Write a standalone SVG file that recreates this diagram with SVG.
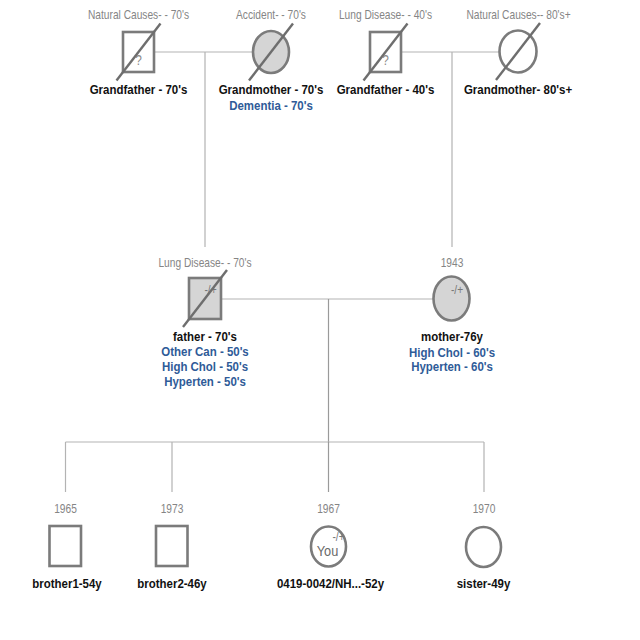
<svg xmlns="http://www.w3.org/2000/svg" width="640" height="640" viewBox="0 0 640 640">
  <style>
    text { font-family: "Liberation Sans", Arial, sans-serif; text-anchor: middle; }
    .note { font-size: 12px; fill: #858585; }
    .name { font-size: 13.5px; font-weight: bold; fill: #111; }
    .cond { font-size: 13.5px; font-weight: bold; fill: #2f5b98; }
    .mark { font-size: 12px; fill: #777; }
    .you { font-size: 15px; fill: #6a6a6a; }
    .q { font-size: 14px; fill: #8a8a8a; }
    .shape { stroke: #7b7b7b; stroke-width: 2.6; fill: #fff; }
    .affected { fill: #d5d5d5; }
    .dead { stroke: #6e6e6e; stroke-width: 2.4; stroke-linecap: butt; }
    .link { stroke: #b3b3b3; stroke-width: 1.2; fill: none; }
  </style>
  <rect width="640" height="640" fill="#fff"/>

  <!-- relationship and descent lines -->
  <g id="connectors">
    <line class="link" x1="154" y1="52" x2="253" y2="52"/>
    <line class="link" x1="205" y1="52" x2="205" y2="247"/>
    <line class="link" x1="401" y1="52" x2="499.5" y2="52"/>
    <line class="link" x1="452" y1="52" x2="452" y2="247"/>
    <line class="link" x1="221" y1="299" x2="433.5" y2="299"/>
    <line class="link" x1="328.5" y1="299" x2="328.5" y2="442" style="stroke:#9a9a9a"/>
    <line class="link" x1="65.5" y1="442" x2="484" y2="442"/>
    <line class="link" x1="65.5" y1="442" x2="65.5" y2="492"/>
    <line class="link" x1="172" y1="442" x2="172" y2="492"/>
    <line class="link" x1="328.5" y1="442" x2="328.5" y2="492" style="stroke:#9a9a9a"/>
    <line class="link" x1="484" y1="442" x2="484" y2="492"/>
  </g>

  <!-- paternal grandfather -->
  <g id="grandfather-paternal">
    <text class="note" transform="translate(138.5 19) scale(0.85 1)">Natural Causes- - 70's</text>
    <rect class="shape" x="123" y="32" width="31" height="40"/>
    <text class="q" transform="translate(138.5 65) scale(0.85 1)">?</text>
    <line class="dead" x1="116.5" y1="80.5" x2="160.5" y2="23.5"/>
    <text class="name" transform="translate(138.5 94) scale(0.85 1)">Grandfather - 70's</text>
  </g>

  <!-- paternal grandmother -->
  <g id="grandmother-paternal">
    <text class="note" transform="translate(271 19) scale(0.85 1)">Accident- - 70's</text>
    <ellipse class="shape affected" cx="271" cy="52" rx="18" ry="21"/>
    <line class="dead" x1="249" y1="80.5" x2="293" y2="23.5"/>
    <text class="name" transform="translate(271 94) scale(0.85 1)">Grandmother - 70's</text>
    <text class="cond" transform="translate(271 110) scale(0.85 1)">Dementia - 70's</text>
  </g>

  <!-- maternal grandfather -->
  <g id="grandfather-maternal">
    <text class="note" transform="translate(385.5 19) scale(0.85 1)">Lung Disease- - 40's</text>
    <rect class="shape" x="370" y="32" width="31" height="40"/>
    <text class="q" transform="translate(385.5 65) scale(0.85 1)">?</text>
    <line class="dead" x1="363.5" y1="80.5" x2="407.5" y2="23.5"/>
    <text class="name" transform="translate(385.5 94) scale(0.85 1)">Grandfather - 40's</text>
  </g>

  <!-- maternal grandmother -->
  <g id="grandmother-maternal">
    <text class="note" transform="translate(518.5 19) scale(0.85 1)">Natural Causes-- 80's+</text>
    <ellipse class="shape" cx="518" cy="51.5" rx="18.5" ry="21"/>
    <line class="dead" x1="496" y1="80" x2="540" y2="23"/>
    <text class="name" transform="translate(518 94) scale(0.85 1)">Grandmother- 80's+</text>
  </g>

  <!-- father -->
  <g id="father">
    <text class="note" transform="translate(205 267) scale(0.85 1)">Lung Disease- - 70's</text>
    <rect class="shape affected" x="189" y="278" width="32" height="41"/>
    <text class="mark" transform="translate(210.5 294) scale(0.85 1)">-/+</text>
    <line class="dead" x1="183" y1="327" x2="227" y2="270"/>
    <text class="name" transform="translate(205 341) scale(0.85 1)">father - 70's</text>
    <text class="cond" transform="translate(205 356) scale(0.85 1)">Other Can - 50's</text>
    <text class="cond" transform="translate(205 371) scale(0.85 1)">High Chol - 50's</text>
    <text class="cond" transform="translate(205 386) scale(0.85 1)">Hyperten - 50's</text>
  </g>

  <!-- mother -->
  <g id="mother">
    <text class="note" transform="translate(452 267) scale(0.85 1)">1943</text>
    <ellipse class="shape affected" cx="451.5" cy="298.5" rx="18" ry="22"/>
    <text class="mark" transform="translate(457 294) scale(0.85 1)">-/+</text>
    <text class="name" transform="translate(452 341) scale(0.85 1)">mother-76y</text>
    <text class="cond" transform="translate(452 357) scale(0.85 1)">High Chol - 60's</text>
    <text class="cond" transform="translate(452 371) scale(0.85 1)">Hyperten - 60's</text>
  </g>

  <!-- children -->
  <g id="brother1">
    <text class="note" transform="translate(65.5 513) scale(0.85 1)">1965</text>
    <rect class="shape" x="49.5" y="526" width="31.5" height="40"/>
    <text class="name" transform="translate(67 588) scale(0.85 1)">brother1-54y</text>
  </g>

  <g id="brother2">
    <text class="note" transform="translate(172 513) scale(0.85 1)">1973</text>
    <rect class="shape" x="156" y="526" width="31.5" height="40"/>
    <text class="name" transform="translate(172 588) scale(0.85 1)">brother2-46y</text>
  </g>

  <g id="self">
    <text class="note" transform="translate(328.5 513) scale(0.85 1)">1967</text>
    <ellipse class="shape" cx="328.5" cy="546.5" rx="17.5" ry="20"/>
    <text class="mark" transform="translate(338.5 541) scale(0.85 1)">-/+</text>
    <text class="you" transform="translate(327.5 556) scale(0.85 1)">You</text>
    <text class="name" transform="translate(330.5 588) scale(0.85 1)">0419-0042/NH...-52y</text>
  </g>

  <g id="sister">
    <text class="note" transform="translate(484 513) scale(0.85 1)">1970</text>
    <ellipse class="shape" cx="483.5" cy="547" rx="17.5" ry="20"/>
    <text class="name" transform="translate(483.5 588) scale(0.85 1)">sister-49y</text>
  </g>
</svg>
